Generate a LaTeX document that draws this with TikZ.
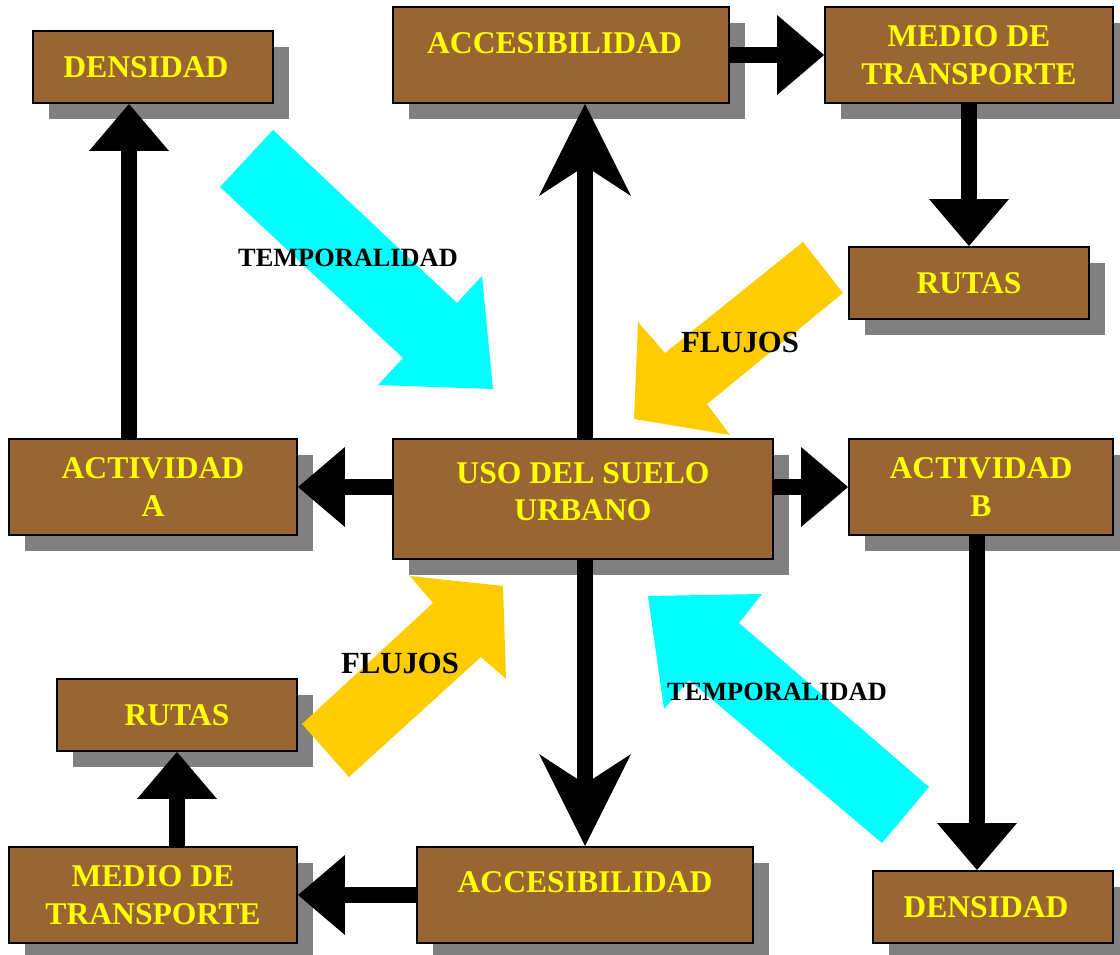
\documentclass[tikz,border=0pt]{standalone}
\usepackage{fontspec}
\setmainfont{Liberation Serif}
\usetikzlibrary{arrows.meta,shadows}

\definecolor{cafe}{HTML}{996633}
\definecolor{amarillo}{HTML}{FFFF00}
\definecolor{celeste}{HTML}{00FFFF}
\definecolor{oro}{HTML}{FFCC00}
\definecolor{sombra}{HTML}{808080}

\tikzset{
	caja/.style={draw=black, line width=0.04cm, fill=cafe, inner sep=0pt,
		text=amarillo, align=center, font=\fontsize{18}{21.5}\selectfont\bfseries,
		drop shadow={shadow xshift=0.32cm, shadow yshift=-0.32cm, fill=sombra, opacity=1}},
	rel/.style={line width=0.32cm, -{Triangle[length=0.94cm, width=1.6cm, line width=0pt]}},
	eje/.style={line width=0.32cm, -{Stealth[length=1.84cm, width=1.84cm, inset=0.6cm, line width=0pt]}},
	etiq/.style={inner sep=0pt, font=\bfseries}
}

\begin{document}
\begin{tikzpicture}[x=0.02cm, y=-0.02cm]
	\useasboundingbox (0,0) rectangle (1120,955);
	% cajas
	\node [caja, minimum width=4.8cm, minimum height=1.44cm] (dens1) at (153,67) {DENSIDAD\hspace*{0.28cm}};
	\node [caja, minimum width=6.72cm, minimum height=1.92cm, text depth=0.48cm] (acc1) at (561,55) {ACCESIBILIDAD\hspace*{0.26cm}};
	\node [caja, minimum width=5.76cm, minimum height=1.92cm] (med1) at (969,55) {MEDIO DE\\TRANSPORTE};
	\node [caja, minimum width=4.8cm, minimum height=1.44cm] (rut1) at (969,283) {RUTAS};
	\node [caja, minimum width=5.76cm, minimum height=1.92cm] (acta) at (153,487) {ACTIVIDAD\\A};
	\node [caja, minimum width=7.6cm, minimum height=2.4cm, text depth=0.3cm] (usos) at (583,499) {USO DEL SUELO\\URBANO};
	\node [caja, minimum width=5.28cm, minimum height=1.92cm] (actb) at (981,487) {ACTIVIDAD\\B};
	\node [caja, minimum width=4.8cm, minimum height=1.44cm] (rut2) at (177,715) {RUTAS};
	\node [caja, minimum width=5.76cm, minimum height=1.92cm] (med2) at (153,895) {MEDIO DE\\TRANSPORTE};
	\node [caja, minimum width=6.72cm, minimum height=1.92cm, text depth=0.52cm] (acc2) at (585,895) {ACCESIBILIDAD};
	\node [caja, minimum width=4.8cm, minimum height=1.44cm] (dens2) at (993,907) {DENSIDAD\hspace*{0.28cm}};

	% flechas negras
	\draw [rel] ([xshift=-0.48cm]acta.north) -- ([xshift=-0.48cm]dens1.south);
	\draw [eje] ([xshift=0.04cm]usos.north) -- ([xshift=0.04cm]usos.north |- acc1.south);
	\draw [rel] (acc1.east) -- (med1.west);
	\draw [rel] (med1.south) -- (rut1.north);
	\draw [rel] (usos.west |- acta.east) -- (acta.east);
	\draw [rel] (usos.east |- actb.west) -- (actb.west);
	\draw [eje] (usos.south -| acc2.north) -- (acc2.north);
	\draw [rel] ([xshift=-0.08cm]actb.south) -- ([xshift=-0.08cm]actb.south |- dens2.north);
	\draw [rel] (acc2.west) -- (med2.east);
	\draw [rel] (med2.north -| rut2.south) -- (rut2.south);

	% flechas anchas
	\fill [celeste] (273,130) -- (457,303) -- (482,276) -- (493,389) -- (378,385) -- (403,358) -- (220,187) -- cycle;
	\fill [oro] (803,242) -- (843,293) -- (707,404) -- (730,435) -- (634,419) -- (638,322) -- (665,353) -- cycle;
	\fill [oro] (349,777) -- (302,724) -- (433,603) -- (410,576) -- (503,586) -- (506,679) -- (481,657) -- cycle;
	\fill [celeste] (648,596) -- (762,594) -- (739,623) -- (929,787) -- (882,843) -- (689,680) -- (664,709) -- cycle;

	% textos
	\node [etiq, font=\fontsize{15}{18}\selectfont\bfseries] (temp1) at (348,258) {TEMPORALIDAD};
	\node [etiq, font=\fontsize{17.5}{21}\selectfont\bfseries] (flu1) at (740,342) {FLUJOS};
	\node [etiq, font=\fontsize{17.5}{21}\selectfont\bfseries] (flu2) at (400,663) {FLUJOS};
	\node [etiq, font=\fontsize{15}{18}\selectfont\bfseries] (temp2) at (777,692) {TEMPORALIDAD};
\end{tikzpicture}
\end{document}
